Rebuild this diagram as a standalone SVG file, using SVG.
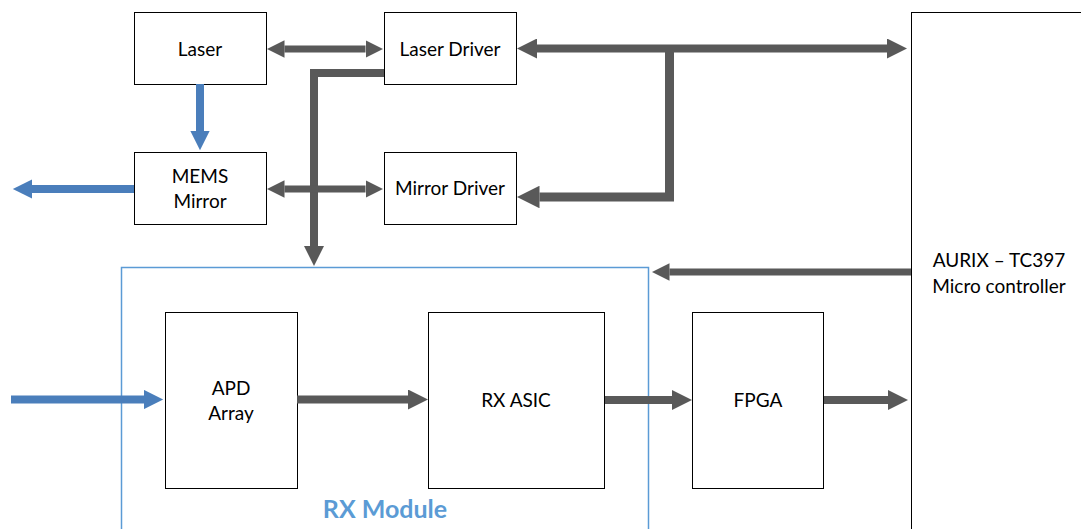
<svg xmlns="http://www.w3.org/2000/svg" width="1081" height="529" viewBox="0 0 1081 529">
<style>
.box{fill:#fff;stroke:#000;stroke-width:1}
.t{font-family:Lato,"Liberation Sans",sans-serif;font-size:19px;fill:#000;text-anchor:middle}
.g{fill:none;stroke:#595959;stroke-linejoin:miter}
.b{fill:none;stroke:#4a7ebb}
</style>
<defs>
<marker id="hg" viewBox="0 0 10 10" refX="0" refY="5" markerWidth="2.5" markerHeight="2.5" orient="auto-start-reverse" markerUnits="strokeWidth"><path d="M0,0 L10,5 L0,10 z" fill="#595959"/></marker>
<marker id="hb" viewBox="0 0 10 10" refX="0" refY="5" markerWidth="2.6" markerHeight="2.4" orient="auto-start-reverse" markerUnits="strokeWidth"><path d="M0,0 L10,5 L0,10 z" fill="#4a7ebb"/></marker>
</defs>
<rect x="0" y="0" width="1081" height="529" fill="#fff"/>
<g id="rx-module">
<rect x="121.5" y="267.5" width="527" height="300" fill="none" stroke="#5b9bd5" stroke-width="1.5"/>
<text x="385" y="518" style="font-family:Lato,'Liberation Sans',sans-serif;font-size:25px;font-weight:bold;fill:#5b9bd5;text-anchor:middle">RX Module</text>
</g>
<g id="mcu">
<rect class="box" x="911.5" y="12.5" width="200" height="600"/>
<text class="t" x="999" y="267">AURIX – TC397</text>
<text class="t" x="999" y="293">Micro controller</text>
</g>
<g id="laser"><rect class="box" x="134.5" y="12.5" width="132" height="72"/><text class="t" x="200" y="56">Laser</text></g>
<g id="laser-driver"><rect class="box" x="384.5" y="12.5" width="132" height="72"/><text class="t" x="450" y="56">Laser Driver</text></g>
<g id="mems"><rect class="box" x="134.5" y="152.5" width="132" height="72"/><text class="t" x="200" y="183">MEMS</text><text class="t" x="200" y="208">Mirror</text></g>
<g id="mirror-driver"><rect class="box" x="384.5" y="152.5" width="132" height="72"/><text class="t" x="450" y="195">Mirror Driver</text></g>
<g id="apd"><rect class="box" x="165.5" y="312.5" width="132" height="176"/><text class="t" x="231" y="395">APD</text><text class="t" x="231" y="420">Array</text></g>
<g id="rx-asic"><rect class="box" x="428.5" y="312.5" width="176" height="176"/><text class="t" x="516" y="407">RX ASIC</text></g>
<g id="fpga"><rect class="box" x="692.5" y="312.5" width="131" height="176"/><text class="t" x="758" y="407">FPGA</text></g>
<g id="connectors">
<path class="g" stroke-width="7" d="M284.5,49 H365.5" marker-start="url(#hg)" marker-end="url(#hg)"/>
<path class="g" stroke-width="8" d="M537,48.5 H887" marker-start="url(#hg)" marker-end="url(#hg)"/>
<path class="g" stroke-width="9" d="M669.5,48 V197 H539.5" marker-end="url(#hg)"/>
<path class="g" stroke-width="8" d="M384,73 H314 V246" marker-end="url(#hg)"/>
<path class="g" stroke-width="7" d="M284.5,189 H365.5" marker-start="url(#hg)" marker-end="url(#hg)"/>
<path class="g" stroke-width="7" d="M911,272 H669.5" marker-end="url(#hg)"/>
<path class="g" stroke-width="8" d="M297,399.5 H408" marker-end="url(#hg)"/>
<path class="g" stroke-width="8" d="M605,400 H672" marker-end="url(#hg)"/>
<path class="g" stroke-width="8" d="M824,400 H888" marker-end="url(#hg)"/>
<path class="b" stroke-width="8" d="M200,84 V131" marker-end="url(#hb)"/>
<path class="b" stroke-width="8" d="M134,189 H32" marker-end="url(#hb)"/>
<path class="b" stroke-width="8" d="M11,399.5 H144" marker-end="url(#hb)"/>
</g>
</svg>
